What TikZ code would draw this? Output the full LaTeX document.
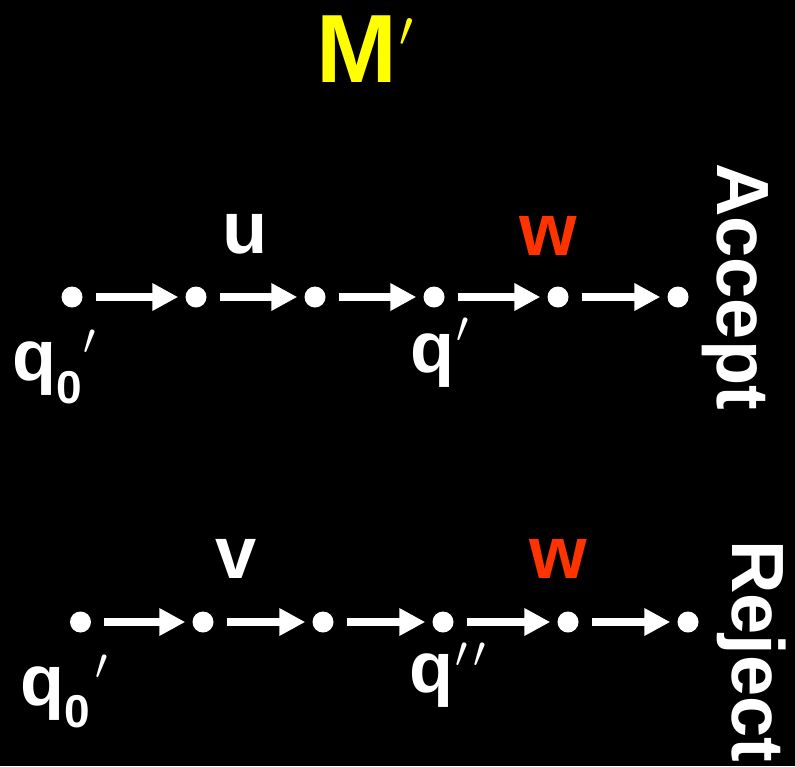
\RequirePackage{fix-cm}
\documentclass[tikz,border=0pt]{standalone}
\usepackage{fontspec}
\setmainfont{Liberation Sans}
\usetikzlibrary{arrows.meta}
\definecolor{mred}{RGB}{255,51,0}
\definecolor{myellow}{RGB}{255,255,0}
\newcommand{\primesym}[1]{{\fontsize{#1}{#1}\selectfont$\prime$}}
\newcommand{\subz}{{\fontsize{46}{46}\selectfont 0}}
\begin{document}
\begin{tikzpicture}[x=1pt,y=-1pt,
  dot/.style={circle,fill=white,draw=none,inner sep=0pt,minimum size=21pt},
  arr/.style={white,line width=8pt,-{Triangle[length=26pt,width=26pt]},shorten <=13pt,shorten >=7pt},
  lbl/.style={text=white,font=\fontsize{74}{74}\selectfont\bfseries,inner sep=0pt},
  qlbl/.style={text=white,font=\fontsize{72}{72}\selectfont\bfseries,inner sep=0pt,anchor=base west}]
\fill[black] (0,0) rectangle (795,766);
\useasboundingbox (0,0) rectangle (795,766);

% title
\node[inner sep=0pt,anchor=base west,text=myellow,font=\fontsize{97}{97}\selectfont\bfseries] (title) at (316,82) {M\hspace{2pt}\raisebox{36pt}{\primesym{50}}};

% top row
\foreach \n/\x in {1/72,2/196,3/315,4/434,5/558,6/678}
  \node[dot] (a\n) at (\x,297) {};
\foreach \i/\j in {1/2,2/3,3/4,4/5,5/6}
  \draw[arr] (a\i) -- (a\j);

% bottom row
\foreach \n/\x in {1/80.5,2/203,3/323,4/443,5/568,6/688}
  \node[dot] (b\n) at (\x,622) {};
\foreach \i/\j in {1/2,2/3,3/4,4/5,5/6}
  \draw[arr] (b\i) -- (b\j);

% edge labels
\node[lbl,anchor=base] (u) at (245,253) {u};
\node[lbl,anchor=base,text=mred] (w1) at (548,255) {w};
\node[lbl,anchor=base] (v) at (236,578) {v};
\node[lbl,anchor=base,text=mred] (w2) at (558,578) {w};

% state labels
\node[qlbl] (q0a) at (12,380) {q\raisebox{-23pt}{\subz}\hspace{2pt}\raisebox{26pt}{\primesym{44}}};
\node[qlbl] (qa) at (410,372) {q\hspace{2pt}\raisebox{30pt}{\primesym{44}}};
\node[qlbl] (q0b) at (20,705) {q\raisebox{-22pt}{\subz}\hspace{6pt}\raisebox{26pt}{\primesym{44}}};
\node[qlbl] (qb) at (409,692) {q\hspace{2pt}\raisebox{25pt}{\primesym{44}\hspace{6pt}\primesym{44}}};

% outcome labels
\node[lbl,rotate=-90,anchor=base west] (acc) at (717,163) {Accept};
\node[lbl,rotate=-90,anchor=base west] (rej) at (732,540) {Reject};
\end{tikzpicture}
\end{document}
